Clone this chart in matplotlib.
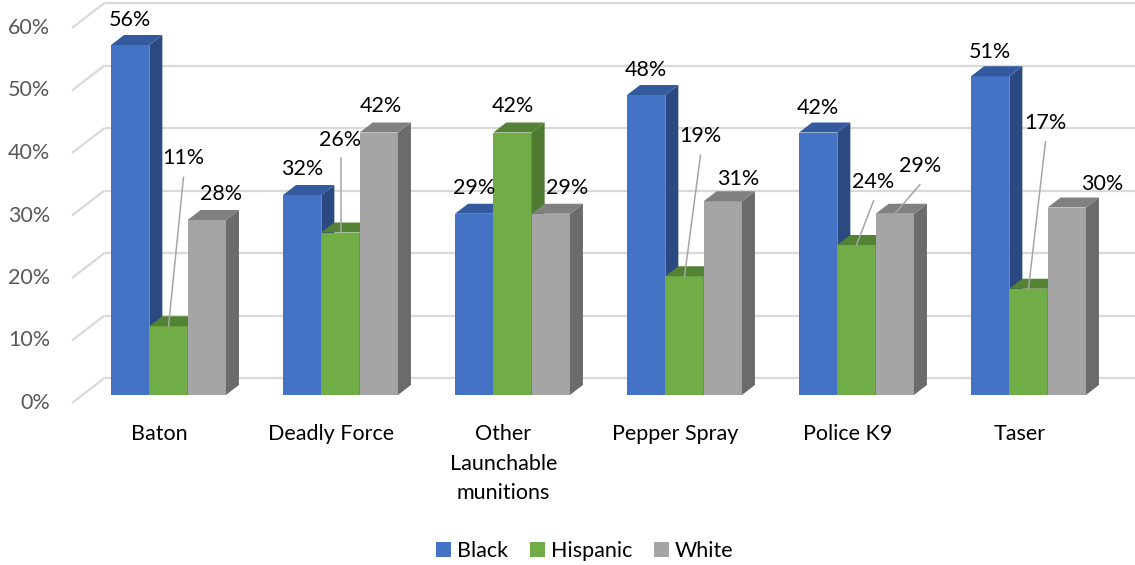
import matplotlib as mpl
mpl.use('Agg')
from matplotlib import pyplot as plt
from matplotlib.patches import Polygon, Rectangle, Patch

plt.rcParams['font.family'] = ['Lato', 'DejaVu Sans']

## ------------------------------------------------------------------
##  Data
## ------------------------------------------------------------------
categories = ['Baton', 'Deadly Force', 'Other\nLaunchable\nmunitions',
              'Pepper Spray', 'Police K9', 'Taser']
series = ['Black', 'Hispanic', 'White']
black = [56, 32, 29, 48, 42, 51]
hispanic = [11, 26, 42, 19, 24, 17]
white = [28, 42, 29, 31, 29, 30]
yticks = [0, 10, 20, 30, 40, 50, 60]

# label nudges in pixels (right, up) from the front-top centre of each bar
nudge_x = {'Black': [0, 0, 0, 0, 0, 0],
           'Hispanic': [15, 0, 0, 16, 17, 17],
           'White': [14, 2, 16, 15, 25, 35]}
nudge_y = {'Black': [25, 26, 26, 25, 25, 24],
           'Hispanic': [168, 93, 26, 140, 63, 166],
           'White': [26, 26, 26, 22, 48, 23]}

faces = {'Black': ('#4472C4', '#335A9E', '#2C4A82'),
         'Hispanic': ('#70AD47', '#548235', '#4F7A32'),
         'White': ('#A5A5A5', '#808080', '#6B6B6B')}

## ------------------------------------------------------------------
##  Geometry (pixels -> data units)
## ------------------------------------------------------------------
PX_X = 172.0    # px per category
PX_Y = 6.25     # px per percent
W, H = 1135, 565
X0, Y0 = 168.5, 395  # pixel position of first group centre / floor

def depth(d):
    return 1.3 * d / PX_X, d / PX_Y

bar_w = 38.3 / PX_X
fs = 15.5

fig = plt.figure(figsize=(W / 100, H / 100), dpi=100)
ax = fig.add_axes([0, 0, 1, 1])
ax.set_xlim(-X0 / PX_X, (W - X0) / PX_X)
ax.set_ylim((Y0 - H) / PX_Y, Y0 / PX_Y)
ax.axis('off')

# walls / gridlines
xw = (82.4 - X0) / PX_X
fx, fy = depth(-8)
bx, by = depth(17)
for t in yticks:
    ax.plot([xw + fx, xw + bx], [t + fy, t + by], color='#D9D9D9', lw=1.6,
            zorder=0, solid_capstyle='butt')
    ax.plot([xw + bx, ax.get_xlim()[1]], [t + by, t + by], color='#D9D9D9',
            lw=1.6, zorder=0, solid_capstyle='butt')
    ax.text(xw + fx - 22 / PX_X, t + fy, f'{t}%', ha='right', va='center',
            fontsize=fs, color='#595959')

# bars
ddx, ddy = depth(10)
values = {'Black': black, 'Hispanic': hispanic, 'White': white}
for i, cat in enumerate(categories):
    left = i - 1.5 * bar_w
    for j, s in enumerate(series):
        v = values[s][i]
        x0 = left + j * bar_w
        front, top, side = faces[s]
        ax.add_patch(Rectangle((x0, 0), bar_w, v, facecolor=front,
                               edgecolor='none', zorder=2))
        ax.add_patch(Polygon([(x0 + bar_w, 0), (x0 + bar_w + ddx, ddy),
                              (x0 + bar_w + ddx, v + ddy), (x0 + bar_w, v)],
                             closed=True, facecolor=side, edgecolor='none', zorder=2))
        ax.add_patch(Polygon([(x0, v), (x0 + bar_w, v),
                              (x0 + bar_w + ddx, v + ddy), (x0 + ddx, v + ddy)],
                             closed=True, facecolor=top, edgecolor='none', zorder=2))

        # value label
        cx = x0 + bar_w / 2
        lx = cx + nudge_x[s][i] / PX_X
        ly = v + nudge_y[s][i] / PX_Y
        ax.text(lx, ly, f'{v}%', ha='center', va='center', fontsize=fs,
                color='black', zorder=5)
        if nudge_y[s][i] > 35:
            ax.plot([lx, cx], [ly - 19 / PX_Y, v], color='#A6A6A6', lw=1.1,
                    zorder=4)

    ax.text(i - 9 / PX_X, -29 / PX_Y, cat, ha='center', va='top', fontsize=fs,
            color='black', linespacing=1.6)

handles = [Patch(facecolor=faces[s][0], label=s) for s in series]
fig.legend(handles=handles, loc='center', bbox_to_anchor=(585 / W, 1 - 551 / H),
           ncol=3, frameon=False, fontsize=fs, handlelength=0.68,
           handleheight=0.68, handletextpad=0.3, columnspacing=1.0)

fig.savefig('out.png', dpi=100)
